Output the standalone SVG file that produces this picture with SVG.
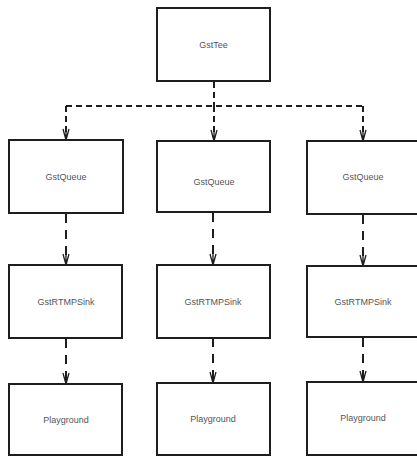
<svg xmlns="http://www.w3.org/2000/svg" width="417" height="457" viewBox="0 0 417 457">
  <style>
    .box { fill: #ffffff; stroke: #1e1e1e; stroke-width: 2; }
    .lbl { font-family: "Liberation Sans", Arial, sans-serif; font-size: 9px; fill: #555555; text-anchor: middle; dominant-baseline: central; }
    .flow { fill: none; stroke: #1e1e1e; stroke-width: 2; stroke-dasharray: 6 4; }
    .drop { fill: none; stroke: #1e1e1e; stroke-width: 2; stroke-dasharray: 9 7; }
    .head { fill: none; stroke: #1e1e1e; stroke-width: 1.3; stroke-linejoin: miter; }
  </style>
  <defs>
    <!-- open V arrowhead with stem, tip at origin -->
    <g id="arrowhead">
      <path class="head" d="M -3 -11 L 0 0 L 3 -11 M 0 -12 L 0 0"/>
    </g>
  </defs>
  <rect width="417" height="457" fill="#ffffff"/>

  <g id="connectors">
    <path class="flow" d="M 214 82 V 106"/>
    <path class="flow" d="M 66 106 H 364"/>
    <path class="flow" d="M 66 106 V 139"/>
    <path class="flow" d="M 214 106 V 140"/>
    <path class="flow" d="M 363 106 V 140"/>
    <path class="drop" d="M 66 214 V 264"/>
    <path class="drop" d="M 213 213 V 264"/>
    <path class="drop" d="M 363 215 V 265"/>
    <path class="drop" d="M 66 339 V 383"/>
    <path class="drop" d="M 213 338 V 382"/>
    <path class="drop" d="M 363 338 V 381"/>
    <use href="#arrowhead" x="66" y="140"/>
    <use href="#arrowhead" x="214" y="141"/>
    <use href="#arrowhead" x="363" y="141"/>
    <use href="#arrowhead" x="66" y="265"/>
    <use href="#arrowhead" x="213" y="265"/>
    <use href="#arrowhead" x="363" y="266"/>
    <use href="#arrowhead" x="66" y="384"/>
    <use href="#arrowhead" x="213" y="383"/>
    <use href="#arrowhead" x="363" y="382"/>
  </g>

  <g id="tee">
    <rect class="box" x="157" y="8" width="113" height="73"/>
    <text class="lbl" x="213.5" y="45">GstTee</text>
  </g>

  <g id="queue1">
    <rect class="box" x="9" y="140" width="114" height="73"/>
    <text class="lbl" x="66" y="177">GstQueue</text>
  </g>
  <g id="queue2">
    <rect class="box" x="157" y="141" width="113" height="71"/>
    <text class="lbl" x="214" y="182">GstQueue</text>
  </g>
  <g id="queue3">
    <rect class="box" x="307" y="141" width="111" height="73"/>
    <text class="lbl" x="363" y="177">GstQueue</text>
  </g>

  <g id="sink1">
    <rect class="box" x="9" y="265" width="113" height="73"/>
    <text class="lbl" x="66" y="302">GstRTMPSink</text>
  </g>
  <g id="sink2">
    <rect class="box" x="157" y="265" width="113" height="73"/>
    <text class="lbl" x="213" y="302">GstRTMPSink</text>
  </g>
  <g id="sink3">
    <rect class="box" x="307" y="266" width="111" height="71"/>
    <text class="lbl" x="363" y="302">GstRTMPSink</text>
  </g>

  <g id="playground1">
    <rect class="box" x="9" y="384" width="113" height="71"/>
    <text class="lbl" x="66" y="420">Playground</text>
  </g>
  <g id="playground2">
    <rect class="box" x="157" y="383" width="113" height="72"/>
    <text class="lbl" x="213" y="419">Playground</text>
  </g>
  <g id="playground3">
    <rect class="box" x="307" y="382" width="111" height="73"/>
    <text class="lbl" x="363" y="418">Playground</text>
  </g>
</svg>
